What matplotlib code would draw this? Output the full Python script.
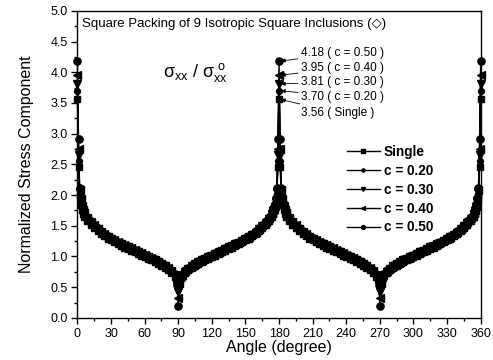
import numpy as np
import matplotlib
matplotlib.use('Agg')
import matplotlib.pyplot as plt

plt.rcParams['font.family'] = ['Liberation Sans', 'DejaVu Sans']
plt.rcParams['mathtext.fontset'] = 'custom'
plt.rcParams['mathtext.rm'] = 'Liberation Sans'
plt.rcParams['mathtext.it'] = 'Liberation Sans:italic'

# angles of one quarter period (0-90 deg), the rest follows by symmetry
quarter_angles = [0, 1, 2, 3, 4, 5, 6, 9, 12, 15, 18, 21, 24, 27, 30, 33, 36, 39, 42,
                  45, 48, 51, 54, 57, 60, 63, 66, 69, 72, 75, 78, 81, 84, 87, 88, 89, 90]

single = [3.56, 2.45, 1.98, 1.84, 1.75, 1.69, 1.65, 1.57, 1.52, 1.46, 1.41, 1.37, 1.33,
          1.29, 1.26, 1.23, 1.20, 1.17, 1.145, 1.125, 1.095, 1.065, 1.04, 1.015, 0.985,
          0.96, 0.935, 0.91, 0.88, 0.85, 0.815, 0.775, 0.73, 0.67, 0.64, 0.60, 0.55]
c020 = [3.70, 2.55, 2.02, 1.87, 1.78, 1.72, 1.67, 1.59, 1.535, 1.475, 1.425, 1.38, 1.34,
        1.30, 1.27, 1.24, 1.21, 1.185, 1.16, 1.14, 1.11, 1.08, 1.055, 1.03, 1.0,
        0.975, 0.95, 0.925, 0.895, 0.865, 0.83, 0.79, 0.745, 0.68, 0.65, 0.59, 0.48]
c030 = [3.81, 2.65, 2.05, 1.90, 1.80, 1.74, 1.69, 1.61, 1.55, 1.49, 1.44, 1.39, 1.35,
        1.31, 1.28, 1.25, 1.22, 1.195, 1.17, 1.15, 1.12, 1.09, 1.065, 1.04, 1.01,
        0.985, 0.96, 0.935, 0.905, 0.875, 0.84, 0.80, 0.755, 0.69, 0.66, 0.58, 0.42]
c040 = [3.95, 2.75, 2.08, 1.93, 1.82, 1.76, 1.71, 1.63, 1.565, 1.505, 1.455, 1.40, 1.36,
        1.32, 1.29, 1.26, 1.23, 1.205, 1.18, 1.16, 1.13, 1.10, 1.075, 1.05, 1.02,
        0.995, 0.97, 0.945, 0.915, 0.885, 0.85, 0.81, 0.765, 0.70, 0.67, 0.56, 0.33]
c050 = [4.18, 2.92, 2.12, 1.96, 1.85, 1.79, 1.73, 1.65, 1.58, 1.52, 1.47, 1.41, 1.37,
        1.33, 1.30, 1.27, 1.24, 1.215, 1.19, 1.17, 1.14, 1.11, 1.085, 1.06, 1.03,
        1.005, 0.98, 0.955, 0.925, 0.895, 0.86, 0.82, 0.775, 0.71, 0.68, 0.53, 0.20]

labels = ['Single', 'c = 0.20', 'c = 0.30', 'c = 0.40', 'c = 0.50']
markers = ['s', 'o', 'v', '<', 'o']
msizes = [4.8, 4.2, 5.2, 5.2, 5.2]

peak_notes = ['4.18 ( c = 0.50 )', '3.95 ( c = 0.40 )', '3.81 ( c = 0.30 )',
              '3.70 ( c = 0.20 )', '3.56 ( Single )']
peak_values = [4.18, 3.95, 3.81, 3.70, 3.56]
note_y = [4.31, 4.07, 3.84, 3.60, 3.34]


def full_period(values):
    a = np.array(quarter_angles, dtype=float)
    v = np.array(values, dtype=float)
    half_a = np.concatenate([a, 180 - a[::-1][1:]])
    half_v = np.concatenate([v, v[::-1][1:]])
    return (np.concatenate([half_a, half_a[1:] + 180]),
            np.concatenate([half_v, half_v[1:]]))


fig = plt.figure(figsize=(4.93, 3.6), dpi=100)
ax = fig.add_axes([0.157, 0.117, 0.818, 0.853])

for vals, lab, mk, ms in zip([single, c020, c030, c040, c050], labels, markers, msizes):
    x, y = full_period(vals)
    ax.plot(x, y, color='black', lw=1.0, marker=mk, ms=ms, label=lab, clip_on=False)

ax.set_xlim(0, 360)
ax.set_ylim(0, 5.0)
ax.set_xticks(np.arange(0, 361, 30))
ax.set_xticks(np.arange(0, 361, 15), minor=True)
ax.set_yticks(np.arange(0, 5.01, 0.5))
ax.set_yticks(np.arange(0, 5.01, 0.25), minor=True)
ax.yaxis.set_major_formatter(matplotlib.ticker.FormatStrFormatter('%.1f'))
ax.tick_params(which='major', direction='out', length=4, width=1, labelsize=9, pad=3)
ax.tick_params(which='minor', direction='out', length=2.5, width=1)
for s in ax.spines.values():
    s.set_linewidth(1)

ax.set_xlabel('Angle (degree)', fontsize=11.5, labelpad=0)
ax.set_ylabel('Normalized Stress Component', fontsize=11.5, labelpad=12)

ax.text(4, 4.79, 'Square Packing of 9 Isotropic Square Inclusions (\u25c7)',
        fontsize=9.5, va='center', ha='left')
ax.text(76, 4.0, r'$\mathregular{\sigma_{xx}\ /\ \sigma_{xx}^{\ o}}$', fontsize=13,
        va='center', ha='left')

for txt, pv, ty in zip(peak_notes, peak_values, note_y):
    ax.annotate(txt, xy=(180.5, pv), xytext=(199.5, ty), fontsize=8.5,
                va='center', ha='left',
                arrowprops=dict(arrowstyle='-|>', color='black', lw=0.6,
                                mutation_scale=6, shrinkA=0, shrinkB=1))

leg = ax.legend(loc='upper left', bbox_to_anchor=(0.655, 0.58), frameon=False,
                prop={'weight': 'bold', 'size': 9.8}, handlelength=2.4,
                handletextpad=0.3, labelspacing=0.35, borderaxespad=0,
                markerscale=0.55)

fig.savefig('out.png', dpi=100)
